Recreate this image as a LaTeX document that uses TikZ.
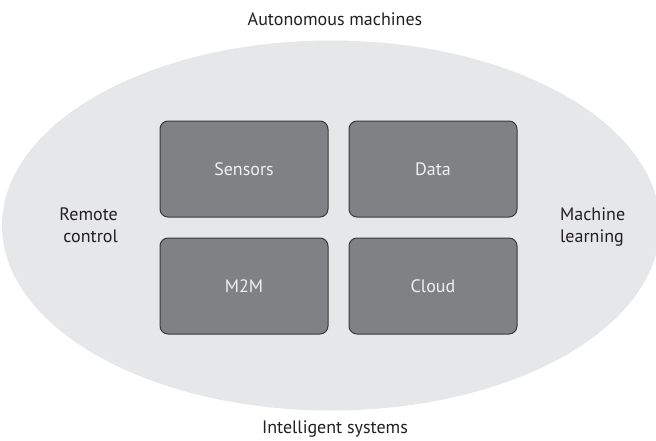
\documentclass[tikz,border=0pt]{standalone}
\usepackage{fontspec}
\setmainfont{PT Sans}
\usepackage{tikz}
\usetikzlibrary{positioning,shapes.geometric}
\definecolor{zonefill}{HTML}{E6E7E8}
\definecolor{cellfill}{HTML}{808184}
\definecolor{celledge}{HTML}{3A3A3C}
\definecolor{ink}{HTML}{231F20}
\tikzset{
  zone/.style={ellipse,fill=zonefill,draw=none,minimum width=658pt,minimum height=370pt,inner sep=0pt},
  cell/.style={draw=celledge,line width=1pt,fill=cellfill,rounded corners=8pt,minimum width=168pt,minimum height=96pt,inner sep=0pt,font=\fontsize{18}{22}\selectfont,text=white!94!black},
  lbl/.style={font=\fontsize{18}{22}\selectfont,text=ink,inner sep=0pt},
}
\begin{document}
\begin{tikzpicture}[x=1pt,y=-1pt]
\useasboundingbox (0,0) rectangle (656,440);
\node[zone] (zone) at (331,225.5) {};
\node[cell] (sensors) at (244,169) {Sensors};
\node[cell] (data) at (433,169) {Data};
\node[cell] (m2m) at (244,286) {M2M};
\node[cell] (cloud) at (433,286) {Cloud};
\node[lbl] (top) at (335,19) {Autonomous machines};
\node[lbl] (bottom) at (335,429) {Intelligent systems};
\node[lbl,align=right,anchor=east] (left) at (118,225) {Remote\\control};
\node[lbl,align=left,anchor=west] (right) at (560,227) {Machine\\learning};
\end{tikzpicture}
\end{document}
